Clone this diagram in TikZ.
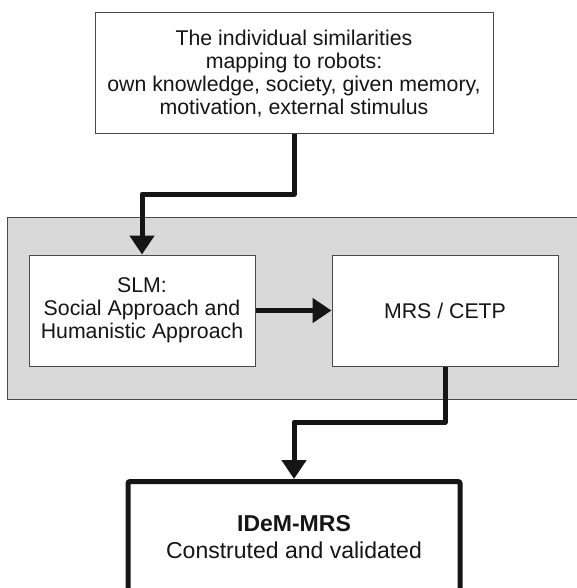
\documentclass[tikz,border=0pt]{standalone}
\usepackage{fontspec}
\setmainfont{Liberation Sans}
\usetikzlibrary{arrows.meta}
\definecolor{grayfill}{HTML}{D9D9D9}
\definecolor{edgegray}{HTML}{4A4A4A}
\definecolor{ink}{HTML}{151515}
\begin{document}
\begin{tikzpicture}[x=1pt,y=-1pt,
  thinbox/.style={draw=edgegray, line width=1pt, fill=white, align=center, inner sep=0pt, text=ink,
    font=\fontsize{21.3}{23}\selectfont},
  flow/.style={draw=ink, line width=5pt, line join=round,
    -{Triangle[width=24pt,length=19pt]}}]
\useasboundingbox (0,0) rectangle (577,588);
\clip (0,0) rectangle (577,588);
% group background
\node[draw=edgegray, line width=1pt, fill=grayfill, minimum width=600pt, minimum height=182pt,
  anchor=north west, inner sep=0pt] (grp) at (7,217) {};
% top box
\node[thinbox, minimum width=398pt, minimum height=121pt] (top) at (294,73.5)
  {The individual similarities\\mapping to robots:\\own knowledge, society, given memory,\\motivation, external stimulus};
% SLM
\node[thinbox, minimum width=226pt, minimum height=111pt] (slm) at (142,310.5)
  {SLM:\\Social Approach and\\Humanistic Approach};
% MRS
\node[thinbox, minimum width=226pt, minimum height=111pt] (mrs) at (445,310.5) {MRS / CETP};
% result box
\node[draw=ink, line width=5pt, rounded corners=2pt, fill=white, minimum width=332pt,
  minimum height=150pt, anchor=north, inner sep=0pt] (res) at (294,479) {};
\node[align=center, text=ink, font=\fontsize{23}{27.5}\selectfont, inner sep=0pt] (restext) at (294,537)
  {\textbf{IDeM-MRS}\\Construted and validated};
% connectors
\coordinate (b1) at (294,194);
\coordinate (b2) at (142,194);
\draw[flow] (top.south) -- (b1) -- (b2) -- (slm.north);
\draw[flow] (slm.east) -- (mrs.west);
\coordinate (c1) at (445,422);
\coordinate (c2) at (294,422);
\draw[flow] (mrs.south) -- (c1) -- (c2) -- (res.north);
\end{tikzpicture}
\end{document}
